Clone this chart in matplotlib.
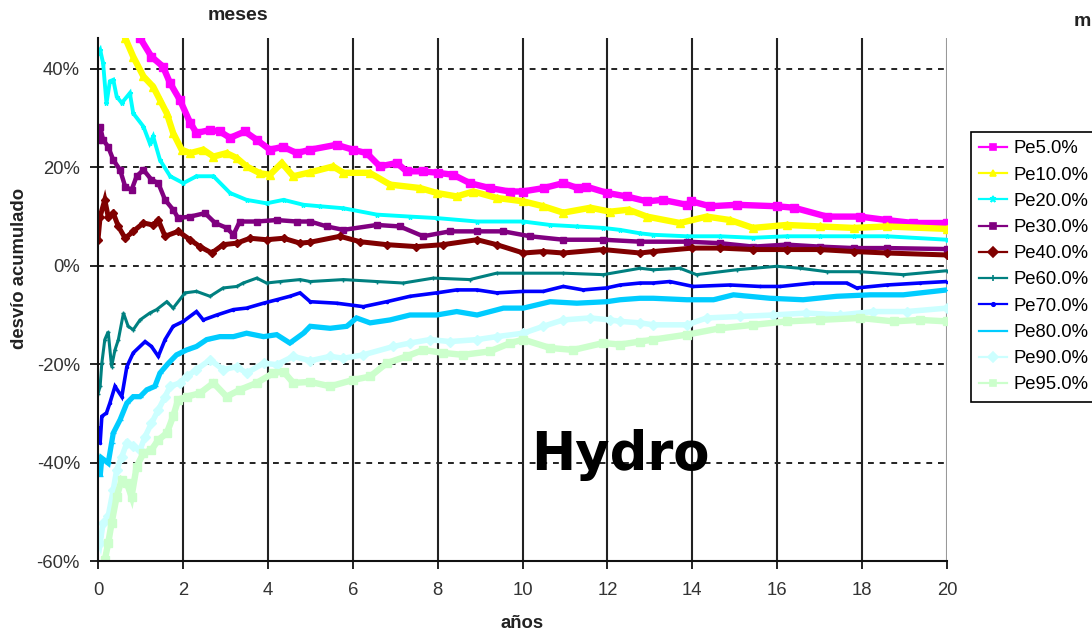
import matplotlib
matplotlib.use("Agg")
import matplotlib.pyplot as plt
from matplotlib.lines import Line2D
from matplotlib.ticker import FuncFormatter

# Cumulative deviation percentiles (years, % deviation)
t_pe5 = [0, 0.3, 0.6, 0.99, 1.26, 1.53, 1.70, 1.93, 2.17, 2.32, 2.64, 2.87, 3.11, 3.46, 3.74,
         4.05, 4.36, 4.68, 5.0, 5.62, 6.0, 6.33, 6.64, 7.04, 7.27, 7.66, 8.0, 8.37, 8.76, 9.23,
         9.7, 10.0, 10.5, 10.96, 11.3, 11.5, 12.0, 12.45, 12.93, 13.3, 13.87, 13.98, 14.42,
         15.05, 15.99, 16.4, 17.17, 17.95, 18.58, 19.2, 20.0]
v_pe5 = [80, 64, 54, 46.3, 42.5, 40.5, 37.1, 33.7, 29.1, 27.0, 27.6, 27.3, 26.0, 27.3, 25.6,
         23.6, 24.2, 22.9, 23.6, 24.6, 23.6, 22.9, 20.2, 20.9, 19.2, 19.2, 18.9, 18.5, 16.8, 15.8,
         15.1, 15.1, 15.8, 16.8, 15.8, 16.1, 14.8, 14.1, 13.1, 13.4, 12.4, 13.1, 12.1,
         12.4, 12.1, 11.8, 10.0, 10.0, 9.3, 8.7, 8.7]

t_pe10 = [0, 0.3, 0.64, 0.83, 1.07, 1.30, 1.46, 1.62, 1.77, 1.97, 2.17, 2.48, 2.72, 3.03, 3.27,
          3.50, 3.82, 4.05, 4.33, 4.6, 5.0, 5.54, 5.78, 6.4, 6.88, 7.59, 7.98, 8.45, 8.84, 9.39,
          10.02, 10.49, 10.96, 11.6, 12.06, 12.5, 12.93, 13.71, 14.34, 14.89, 15.43, 16.22,
          17.0, 17.8, 18.58, 20.0]
v_pe10 = [66, 54, 46.3, 42.5, 38.5, 36.4, 33.7, 31.0, 27.0, 23.6, 22.9, 23.6, 22.2, 22.9, 21.9,
          20.2, 18.8, 18.5, 20.9, 18.2, 19.0, 20.2, 18.9, 18.9, 16.5, 15.8, 14.8, 14.1, 15.1, 13.8,
          13.1, 12.1, 10.8, 11.8, 11.0, 11.4, 10.0, 8.7, 10.0, 9.3, 7.7, 8.3,
          8.0, 7.7, 8.0, 7.5]

t_pe20 = [0.0, 0.05, 0.12, 0.2, 0.28, 0.36, 0.44, 0.56, 0.75, 0.83, 1.07, 1.22, 1.30, 1.46, 1.70,
          2.01, 2.32, 2.72, 3.11, 3.5, 3.97, 4.37, 4.84, 5.23, 5.78, 6.57, 7.35, 7.98, 8.93, 10.02,
          10.65, 11.28, 11.9, 12.3, 12.77, 13.08, 13.87, 14.65, 15.43, 16.22, 17.0, 17.8, 18.58, 20.0]
v_pe20 = [43.2, 43.9, 41.2, 33.0, 37.5, 37.8, 34.4, 33.1, 35.1, 31.0, 28.3, 24.9, 26.3, 21.5, 18.2,
          16.8, 18.2, 18.2, 14.8, 13.4, 12.7, 13.4, 12.4, 12.1, 11.7, 10.4, 10.0, 9.7, 9.0, 9.0,
          8.3, 8.0, 7.7, 7.3, 6.6, 6.3, 6.0, 6.0, 5.7, 6.0, 6.0, 6.0, 6.0, 5.3]

t_pe30 = [0.0, 0.05, 0.12, 0.24, 0.36, 0.52, 0.64, 0.79, 0.91, 1.07, 1.26, 1.42, 1.58, 1.77, 1.89,
          2.17, 2.52, 2.76, 3.03, 3.19, 3.34, 3.74, 4.21, 4.68, 5.0, 5.39, 5.78, 6.57, 7.11, 7.66,
          8.29, 8.93, 9.55, 10.18, 10.96, 11.9, 12.77, 13.87, 14.65, 15.44, 16.22, 17.0, 17.8,
          18.58, 20.0]
v_pe30 = [25.5, 28.3, 25.6, 24.2, 21.5, 19.5, 16.1, 15.4, 18.2, 19.5, 17.5, 16.8, 13.4, 11.4, 9.7,
          10.0, 10.7, 8.7, 7.7, 6.3, 9.0, 9.0, 9.3, 9.0, 9.0, 8.0, 7.3, 8.3, 8.0, 6.0,
          7.0, 7.0, 7.0, 6.0, 5.3, 5.3, 4.9, 4.9, 4.6, 3.9, 4.3, 3.9, 3.6,
          3.6, 3.4]

t_pe40 = [0.0, 0.05, 0.16, 0.24, 0.36, 0.48, 0.64, 0.83, 1.07, 1.30, 1.42, 1.58, 1.89, 2.17, 2.40,
          2.68, 2.95, 3.27, 3.58, 3.97, 4.37, 4.76, 5.0, 5.7, 6.17, 6.8, 7.5, 8.13, 8.93, 9.39,
          10.02, 10.49, 10.96, 11.9, 12.77, 13.08, 14.0, 14.65, 15.43, 16.22, 17.0, 17.8, 18.58, 20.0]
v_pe40 = [5.3, 10.0, 13.4, 10.0, 10.7, 8.0, 5.6, 7.0, 8.7, 8.3, 9.3, 6.0, 7.0, 5.3, 3.9,
          2.6, 4.3, 4.6, 5.6, 5.3, 5.6, 4.6, 4.8, 6.0, 4.9, 4.3, 3.9, 4.3, 5.3, 4.3,
          2.6, 2.9, 2.6, 3.3, 2.6, 2.9, 3.6, 3.6, 3.3, 3.3, 3.3, 2.9, 2.6, 2.2]

t_pe60 = [0.0, 0.05, 0.09, 0.16, 0.24, 0.32, 0.40, 0.48, 0.60, 0.71, 0.83, 0.99, 1.22, 1.38, 1.62,
          1.77, 2.05, 2.32, 2.64, 2.95, 3.27, 3.42, 3.74, 3.97, 4.29, 4.76, 5.0, 5.78, 6.57, 7.19,
          7.9, 8.76, 9.39, 10.02, 10.96, 11.9, 12.77, 13.08, 13.71, 14.1, 15.05, 15.99, 16.54,
          17.17, 17.95, 18.97, 20.0]
v_pe60 = [-26.0, -24.5, -19.8, -15.0, -13.4, -20.5, -17.1, -15.0, -9.6, -12.3, -13.0, -11.0, -9.6,
          -8.9, -7.3, -8.6, -5.5, -5.2, -6.2, -4.5, -4.2, -3.5, -2.5, -3.5, -3.2, -2.8, -3.2,
          -2.8, -3.2, -3.5, -2.5, -2.8, -1.5, -1.5, -1.5, -1.8, -0.5, -0.8, -0.5, -1.8, -0.8,
          -0.1, -0.5, -1.2, -1.2, -1.8, -1.0]

t_pe70 = [0.0, 0.05, 0.09, 0.2, 0.28, 0.40, 0.56, 0.68, 0.83, 1.11, 1.26, 1.42, 1.58, 1.77, 2.01,
          2.32, 2.48, 2.8, 3.19, 3.5, 3.9, 4.21, 4.52, 4.76, 5.0, 5.62, 6.25, 6.8, 7.35, 7.98,
          8.45, 8.93, 9.39, 10.02, 10.49, 10.96, 11.43, 11.98, 12.3, 12.77, 13.08, 13.47, 14.02,
          14.89, 15.6, 16.07, 16.85, 17.64, 17.87, 18.58, 19.36, 20.0]
v_pe70 = [-33.0, -36.0, -30.6, -29.9, -27.9, -24.5, -26.6, -20.5, -17.7, -15.4, -16.4, -18.4, -15.0,
          -12.3, -11.3, -9.3, -11.0, -10.0, -8.9, -8.6, -7.6, -6.9, -6.2, -5.5, -7.3, -7.6, -8.3,
          -7.3, -6.2, -5.5, -4.9, -4.9, -5.5, -5.2, -5.2, -4.2, -4.9, -4.5, -3.9, -3.5, -3.5,
          -3.2, -4.2, -3.9, -4.2, -4.2, -3.5, -3.5, -4.5, -3.9, -3.5, -3.2]

t_pe80 = [0.0, 0.05, 0.09, 0.24, 0.32, 0.36, 0.52, 0.68, 0.83, 0.99, 1.15, 1.34, 1.46, 1.66, 1.85,
          2.09, 2.32, 2.56, 2.87, 3.19, 3.5, 3.9, 4.21, 4.52, 4.84, 5.0, 5.47, 5.86, 6.09, 6.41,
          6.88, 7.35, 7.98, 8.45, 8.93, 9.55, 10.02, 10.65, 11.28, 11.98, 12.3, 12.77, 13.08,
          13.87, 14.5, 14.97, 15.83, 16.61, 17.4, 18.19, 18.97, 20.0]
v_pe80 = [-39.0, -42.8, -39.1, -40.1, -36.0, -34.0, -31.3, -27.9, -26.6, -26.6, -25.2, -24.5, -21.8,
          -19.8, -18.1, -17.1, -16.4, -15.0, -14.4, -14.4, -13.7, -14.4, -14.0, -15.7, -13.7,
          -12.3, -12.7, -12.3, -10.6, -11.6, -11.0, -10.0, -10.0, -9.3, -10.0, -8.6, -8.6, -7.3,
          -7.6, -7.3, -6.9, -6.6, -6.6, -6.9, -6.9, -5.9, -6.6, -6.9, -6.2, -5.9, -5.9, -4.9]

t_pe90 = [0.0, 0.05, 0.12, 0.24, 0.36, 0.44, 0.56, 0.68, 0.83, 0.99, 1.11, 1.26, 1.42, 1.58, 1.70,
          1.93, 2.09, 2.32, 2.64, 2.95, 3.27, 3.5, 3.9, 4.21, 4.6, 5.0, 5.47, 5.78, 6.25, 6.96,
          7.35, 7.82, 8.29, 8.93, 9.39, 10.02, 10.49, 10.96, 11.59, 12.06, 12.3, 12.77, 13.08,
          13.87, 14.34, 15.12, 15.9, 16.69, 17.48, 18.26, 19.05, 20.0]
v_pe90 = [-55.0, -56.4, -52.3, -50.9, -45.5, -41.5, -38.8, -36.0, -36.7, -37.4, -34.7, -32.0, -29.3,
          -26.6, -24.5, -23.8, -22.5, -21.1, -19.1, -21.1, -20.5, -21.8, -19.8, -20.1, -18.4,
          -19.3, -18.4, -18.8, -18.1, -16.4, -15.7, -15.0, -15.4, -15.0, -14.4, -13.7, -12.3,
          -11.0, -10.6, -11.0, -11.3, -11.6, -12.0, -12.0, -10.6, -10.3, -10.0, -9.6, -10.0,
          -9.3, -9.3, -8.6]

t_pe95 = [0.16, 0.24, 0.32, 0.44, 0.56, 0.68, 0.79, 0.91, 1.07, 1.26, 1.42, 1.62, 1.77, 1.89, 2.09,
          2.40, 2.72, 3.03, 3.34, 3.74, 4.13, 4.37, 4.6, 5.0, 5.47, 6.01, 6.41, 6.8, 7.27, 7.66,
          8.13, 8.6, 9.23, 9.71, 10.02, 10.65, 11.2, 11.9, 12.3, 12.77, 13.08, 13.87, 14.65,
          15.44, 16.22, 17.0, 17.95, 18.74, 19.36, 20.0]
v_pe95 = [-59.8, -56.4, -52.3, -46.9, -43.5, -44.2, -46.9, -40.8, -38.1, -37.4, -35.4, -34.0, -30.6,
          -27.2, -26.6, -25.9, -23.8, -26.6, -25.2, -23.8, -21.8, -21.5, -23.8, -23.6, -24.5,
          -23.2, -22.5, -19.8, -18.4, -17.1, -17.7, -18.1, -17.4, -15.7, -15.0, -16.7, -17.1,
          -15.7, -16.0, -15.4, -15.0, -14.0, -12.7, -12.0, -11.3, -11.0, -10.6, -11.3, -11.0, -11.3]

labels = ["Pe5.0%", "Pe10.0%", "Pe20.0%", "Pe30.0%", "Pe40.0%",
          "Pe60.0%", "Pe70.0%", "Pe80.0%", "Pe90.0%", "Pe95.0%"]
times = [t_pe5, t_pe10, t_pe20, t_pe30, t_pe40, t_pe60, t_pe70, t_pe80, t_pe90, t_pe95]
values = [v_pe5, v_pe10, v_pe20, v_pe30, v_pe40, v_pe60, v_pe70, v_pe80, v_pe90, v_pe95]

colors = ["#FF00FF", "#FFFF00", "#00FFFF", "#800080", "#800000",
          "#008080", "#0000FF", "#00CCFF", "#CCFFFF", "#CCFFCC"]
markers = ["s", "^", "*", "s", "D", "+", ".", "_", "D", "s"]
widths = [4.6, 4.6, 2.8, 3.2, 3.6, 2.2, 2.6, 3.8, 4.0, 4.6]

plt.rcParams["font.family"] = ["Liberation Sans", "DejaVu Sans"]

fig = plt.figure(figsize=(10.92, 6.36), dpi=100)
ax = fig.add_axes([98 / 1092, 1 - 561 / 636, (947 - 98) / 1092, (561 - 38) / 636])

for t, v, c, m, w in zip(times, values, colors, markers, widths):
    ax.plot(t, v, color=c, lw=w, marker=m, ms=w * 1.2, mew=1.0,
            solid_joinstyle="miter", zorder=3)

ax.set_xlim(0, 20)
ax.set_ylim(-60, 46.3)
ax.set_xticks(range(0, 21, 2))
ax.set_yticks(range(-60, 41, 20))
ax.yaxis.set_major_formatter(FuncFormatter(lambda y, _: f"{int(y)}%"))

# Grid: dashed horizontals, solid verticals
for y in range(-40, 41, 20):
    ax.axhline(y, color="#222222", lw=1.4, ls=(0, (3.0, 3.0)), zorder=1)
for x in range(2, 20, 2):
    ax.axvline(x, color="#222222", lw=1.5, zorder=1)
ax.axvline(20, color="#999999", lw=1.5, zorder=1)

for s in ["top", "right"]:
    ax.spines[s].set_visible(False)
for s in ["left", "bottom"]:
    ax.spines[s].set_color("#111111")
    ax.spines[s].set_linewidth(1.5)
    ax.spines[s].set_zorder(4)

ax.tick_params(axis="both", direction="out", length=6, width=1.3, color="#111111",
               labelsize=13.3, labelcolor="#333333")
ax.tick_params(axis="x", pad=9)
ax.tick_params(axis="y", pad=7)

ax.set_xlabel("años", fontsize=13.3, fontweight="bold", color="#222222")
ax.set_ylabel("desvío acumulado", fontsize=13.3, fontweight="bold", color="#222222")
ax.xaxis.set_label_coords(0.5, -0.103)
ax.yaxis.set_label_coords(-0.092, 0.56)
ax.yaxis.label.set_va("center")

fig.text(238 / 1092, 1 - 16 / 636, "meses", fontsize=14, fontweight="bold",
         ha="center", va="center", color="#222222")
fig.text(1091 / 1092, 1 - 22 / 636, "m", fontsize=14, fontweight="bold",
         ha="right", va="center", color="#222222")

fig.text(620 / 1092, 1 - 455 / 636, "Hydro", fontsize=38, fontweight="bold",
         family="DejaVu Sans", ha="center", va="center", color="black")

handles = [Line2D([0], [0], color=c, lw=1.6, marker=m, ms=5, mew=1.2)
           for c, m in zip(colors, markers)]
leg = fig.legend(handles, labels, loc="upper left",
                 bbox_to_anchor=(971 / 1092, 1 - 132 / 636), fontsize=13.3,
                 frameon=True, fancybox=False, edgecolor="black", framealpha=1,
                 borderpad=0.45, labelspacing=0.5, handlelength=1.5, handletextpad=0.35,
                 borderaxespad=0)
leg.get_frame().set_linewidth(1.2)

fig.savefig("out.png", dpi=100)
